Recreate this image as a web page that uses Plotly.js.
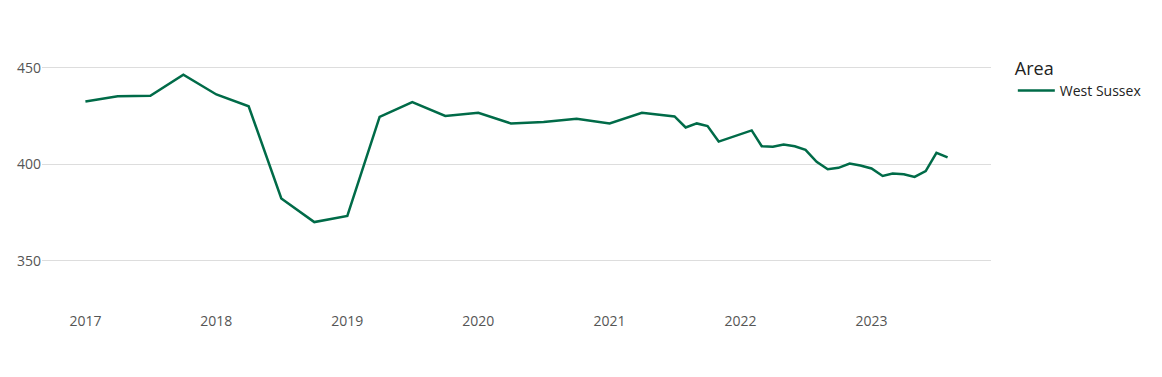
<!DOCTYPE html>
<html>
<head>
<meta charset="utf-8">
<script src="https://cdn.plot.ly/plotly-3.0.1.min.js"></script>
<style>html,body{margin:0;padding:0;background:#fff;}#chart{width:1162px;height:377px;}</style>
</head>
<body>
<div id="chart"></div>
<script>
const dates = ["2017-01-01","2017-04-01","2017-07-01","2017-10-01","2018-01-01","2018-04-01","2018-07-01","2018-10-01","2019-01-01","2019-04-01","2019-07-01","2019-10-01","2020-01-01","2020-04-01","2020-07-01","2020-10-01","2021-01-01","2021-04-01","2021-07-01","2021-08-01","2021-09-01","2021-10-01","2021-11-01","2022-02-01","2022-03-01","2022-04-01","2022-05-01","2022-06-01","2022-07-01","2022-08-01","2022-09-01","2022-10-01","2022-11-01","2022-12-01","2023-01-01","2023-02-01","2023-03-01","2023-04-01","2023-05-01","2023-06-01","2023-07-01","2023-08-01"];
const westSussex = [432.5,435.2,435.4,446.3,436.1,430.0,382.2,370.0,373.2,424.5,432.1,425.0,426.6,421.1,421.8,423.5,421.1,426.6,424.7,419.0,421.1,419.7,411.7,417.5,409.3,409.0,410.2,409.3,407.4,401.2,397.4,398.1,400.3,399.3,397.8,393.9,395.2,394.8,393.4,396.4,405.9,403.5];
const seriesName = "West Sussex";
const legendTitle = "Area";
const yTicks = [350, 400, 450];

Plotly.newPlot("chart", [{
  x: dates, y: westSussex, name: seriesName, type: "scatter", mode: "lines",
  line: {color: "#006b48", width: 2.5}, showlegend: true
}], {
  width: 1162, height: 377,
  margin: {l: 42, r: 171, t: 29, b: 68},
  font: {family: "Open Sans, sans-serif", size: 14, color: "#555"},
  paper_bgcolor: "#fff", plot_bgcolor: "#fff",
  xaxis: {type: "date", range: ["2016-09-02", "2023-11-30"], dtick: "M12", tick0: "2017-01-01",
          tickformat: "%Y", showgrid: false, zeroline: false, showline: false, ticklabelstandoff: 2,
          tickfont: {size: 14, color: "#555"}},
  yaxis: {range: [325, 470], tickvals: yTicks, showgrid: true, gridcolor: "#dddddd", zeroline: false,
          showline: false, tickfont: {size: 14, color: "#555"}},
  legend: {title: {text: legendTitle, font: {size: 18, color: "#222"}}, font: {size: 14, color: "#222"},
           x: 1.023, y: 0.92, yanchor: "top", itemwidth: 37},
  showlegend: true
}, {displayModeBar: false, staticPlot: true});
</script>
</body>
</html>
